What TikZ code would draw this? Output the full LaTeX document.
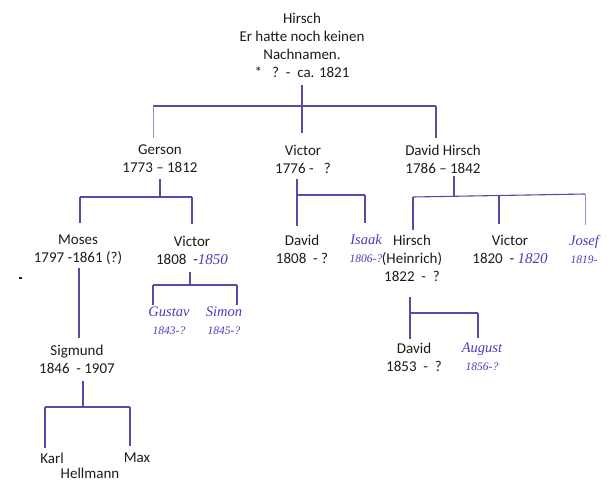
\documentclass[tikz,border=0pt]{standalone}
\usepackage{fontspec}
\setmainfont{Carlito}
\newfontfamily\handfont{Liberation Serif}
\usetikzlibrary{positioning}
\definecolor{inkline}{RGB}{88,74,165}
\definecolor{inkhand}{RGB}{72,60,185}
\definecolor{printtext}{RGB}{28,28,28}
\newcommand{\handtext}[1]{{\color{inkhand}\handfont\itshape #1}}
\newcommand{\handyr}[1]{{\fontsize{11.5}{18}\selectfont #1}}
\tikzset{
  treeline/.style={draw=inkline, line width=1.1pt},
  boldline/.style={draw=inkline, line width=2.1pt},
  faintline/.style={draw=inkline!60, line width=0.8pt},
  person/.style={align=center, inner sep=0pt, text=printtext, font=\fontsize{15}{18}\selectfont},
  handnote/.style={align=center, inner sep=0pt, text=inkhand, font=\handfont\itshape\fontsize{14.5}{18}\selectfont}
}

\begin{document}
\begin{tikzpicture}[x=1pt, y=-1pt]
  \useasboundingbox (0,0) rectangle (612,482);
  % people
  \node[person] (hirsch) at (302,45) {Hirsch\\Er hatte noch keinen\\Nachnamen.\\*\ \ \ ?\ \ -\ \ ca. 1821};
  \node[person] (gerson) at (160,159) {Gerson\\1773 -- 1812};
  \node[person] (victorA) at (303,159) {Victor\\1776 -\ \ \ ?};
  \node[person] (davidH) at (443,159) {David Hirsch\\1786 -- 1842};
  \node[person] (moses) at (78,250) {Moses\\1797 -1861 (?)};
  \node[person] (victorB) at (192,250) {Victor\\1808\ \ -\handtext{1850}};
  \node[person] (davidA) at (302,249) {David\\1808\ \ - ?};
  \node[handnote] (isaak) at (366,249) {Isaak\\\handyr{1806-?}};
  \node[person] (hirschH) at (412,258) {Hirsch\\(Heinrich)\\1822\ \ -\ \ ?};
  \node[person] (victorC) at (510,249) {Victor\\1820\ \ -\ \handtext{1820}};
  \node[handnote] (josef) at (584,249) {Josef\\\handyr{1819-}};
  \node[handnote] (gustav) at (169,321) {Gustav\\\handyr{1843-?}};
  \node[handnote] (simon) at (224,321) {Simon\\\handyr{1845-?}};
  \node[person] (sigmund) at (77,359) {Sigmund\\1846\ \ - 1907};
  \node[person] (davidB) at (414,357) {David\\1853\ \ -\ \ ?};
  \node[handnote] (august) at (482,357) {August\\\handyr{1856-?}};
  \node[person] (karl) at (52,458) {Karl};
  \node[person] (max) at (137,458) {Max};
  \node[person] (hellmann) at (90,473) {Hellmann};
  % joints
  \coordinate (sonsJoin) at (302,133);
  \coordinate (sonsL) at (153,106);
  \coordinate (sonsR) at (436,106);
  \coordinate (gJoin) at (160,197);
  \coordinate (gL) at (80,197);
  \coordinate (gR) at (192,197);
  \coordinate (vL) at (297,195);
  \coordinate (vR) at (365,195);
  \coordinate (dJoin) at (454,196);
  \coordinate (dL) at (413,197);
  \coordinate (dM) at (499,195.5);
  \coordinate (dR) at (585,194);
  \coordinate (vbJoin) at (190,285);
  \coordinate (vbL) at (153,285);
  \coordinate (vbR) at (237,285);
  \coordinate (msX) at (79,300);
  \coordinate (sJoin) at (83,407);
  \coordinate (sL) at (45,407);
  \coordinate (sR) at (130,407);
  \coordinate (hJoin) at (410,313);
  \coordinate (hR) at (478,313);
  % Hirsch
  \draw[treeline, shorten <=8pt] (hirsch) -- (sonsJoin);
  \draw[treeline] (sonsL) -- (sonsR);
  \draw[faintline, shorten >=7pt] (sonsL) -- (gerson.north -| sonsL);
  \draw[treeline, shorten >=7pt] (sonsR) -- (davidH.north -| sonsR);
  % Gerson
  \draw[treeline, shorten <=6pt] (gerson.south -| gJoin) -- (gJoin);
  \draw[treeline] (gL) -- (gR);
  \draw[treeline, shorten >=12pt] (gL) -- (moses.north -| gL);
  \draw[treeline, shorten >=12pt] (gR) -- (victorB.north -| gR);
  % Victor
  \draw[boldline, shorten <=6pt, shorten >=9pt] (victorA.south -| vL) -- (davidA.north -| vL);
  \draw[treeline] (vL) -- (vR);
  \draw[treeline, shorten >=12pt] (vR) -- (isaak.north -| vR);
  % David Hirsch
  \draw[treeline, shorten <=3pt] (davidH.south -| dJoin) -- (dJoin);
  \draw[treeline] (dL) -- (dR);
  \draw[treeline, shorten >=5pt] (dL) -- (hirschH.north -| dL);
  \draw[treeline, shorten >=11pt] (dM) -- (victorC.north -| dM);
  \draw[faintline, shorten >=10pt] (dR) -- (josef.north -| dR);
  % Victor (1808)
  \draw[treeline, shorten <=8pt] (victorB.south -| vbJoin) -- (vbJoin);
  \draw[treeline] (vbL) -- (vbR);
  \draw[treeline, shorten >=2pt] (vbL) -- (gustav.north -| vbL);
  \draw[treeline, shorten >=2pt] (vbR) -- (simon.north -| vbR);
  % Moses
  \draw[treeline, shorten <=3pt, shorten >=7pt] (moses.south -| msX) -- (sigmund.north -| msX);
  % Sigmund
  \draw[treeline, shorten <=8pt] (sigmund.south -| sJoin) -- (sJoin);
  \draw[treeline] (sL) -- (sR);
  \draw[treeline, shorten >=5pt] (sL) -- (karl.north -| sL);
  \draw[treeline, shorten >=7pt] (sR) -- (max.north -| sR);
  % Hirsch (Heinrich)
  \draw[treeline, shorten <=16pt, shorten >=4pt] (hirschH.south -| hJoin) -- (davidB.north -| hJoin);
  \draw[treeline] (hJoin) -- (hR);
  \draw[treeline, shorten >=5pt] (hR) -- (august.north -| hR);
  % stray mark
  \fill[printtext] (18.5,277.3) rectangle (21.5,278.7);
\end{tikzpicture}
\end{document}
